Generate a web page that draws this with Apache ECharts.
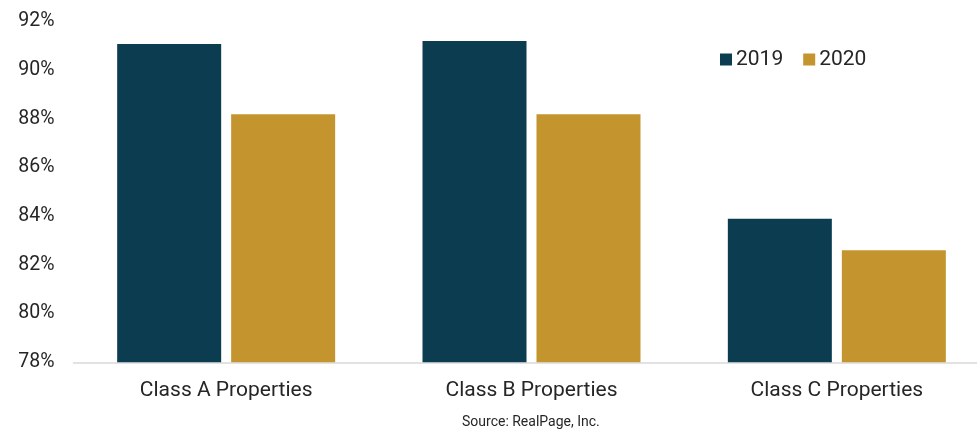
<!DOCTYPE html>
<html>
<head>
<meta charset="utf-8">
<script src="https://cdn.jsdelivr.net/npm/echarts@6/dist/echarts.min.js"></script>
<style>
  html, body { margin: 0; padding: 0; background: #fff; }
  #chart { width: 977px; height: 429px; }
</style>
</head>
<body>
<div id="chart"></div>
<script>
  // data
  var categories = ['Class A Properties', 'Class B Properties', 'Class C Properties'];
  var values2019 = [91.08, 91.2, 83.9];
  var values2020 = [88.19, 88.19, 82.6];
  var seriesNames = ['2019', '2020'];

  var myChart = echarts.init(document.getElementById('chart'));
  var font = 'Roboto, "Noto Sans", sans-serif';

  var option = {
    animation: false,
    textStyle: { fontFamily: font },
    grid: {
      left: 73.5,
      top: 21.5,
      right: -12.5,
      bottom: 66.7,
      outerBoundsMode: 'none',
      containLabel: false
    },
    legend: {
      data: seriesNames,
      left: 715,
      top: 44,
      itemWidth: 12,
      itemHeight: 12,
      itemGap: 20,
      icon: 'rect',
      textStyle: { fontSize: 21, color: '#262626', fontFamily: font, padding: [0, 0, 0, -1] }
    },
    xAxis: {
      type: 'category',
      data: categories,
      axisTick: { show: false },
      axisLine: { lineStyle: { color: '#d9d9d9', width: 1.5 } },
      axisLabel: {
        fontSize: 21,
        color: '#262626',
        margin: 18,
        fontFamily: font
      }
    },
    yAxis: {
      type: 'value',
      min: 78,
      max: 92,
      interval: 2,
      splitLine: { show: false },
      axisLine: { show: false },
      axisTick: { show: false },
      axisLabel: {
        fontSize: 19.5,
        color: '#262626',
        margin: 19,
        fontFamily: font,
        formatter: function (v) { return v + '%'; }
      }
    },
    series: [{
      name: seriesNames[0],
      type: 'bar',
      barWidth: 104,
      barGap: '9.6%',
      itemStyle: { color: '#0b3c4f' },
      data: values2019
    }, {
      name: seriesNames[1],
      type: 'bar',
      barWidth: 104,
      barGap: '9.6%',
      itemStyle: { color: '#c4942e' },
      data: values2020
    }],
    graphic: [{
      type: 'text',
      left: 462,
      top: 415,
      style: {
        text: 'Source: RealPage, Inc.',
        fontSize: 14,
        fill: '#262626',
        fontFamily: font
      }
    }]
  };

  myChart.setOption(option);
</script>
</body>
</html>
